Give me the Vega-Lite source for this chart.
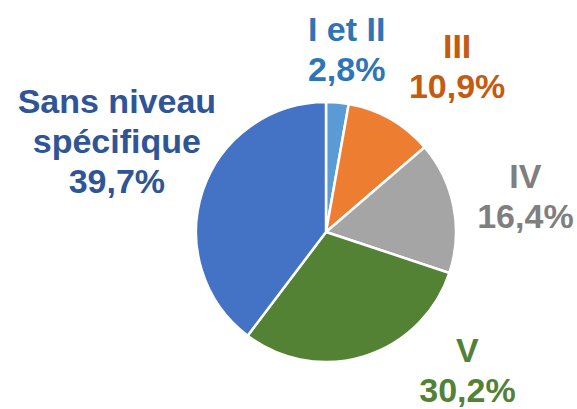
{
  "$schema": "https://vega.github.io/schema/vega-lite/v6.json",
  "width": 502,
  "height": 354,
  "autosize": {"type": "none"},
  "padding": {"left": 75, "top": 55, "right": 0, "bottom": 0},
  "background": "white",
  "config": {"view": {"stroke": null}},
  "data": {
    "values": [
      {"cat": "I et II", "label": "I et II", "v": 2.8},
      {"cat": "III", "label": "III", "v": 10.9},
      {"cat": "IV", "label": "IV", "v": 16.4},
      {"cat": "V", "label": "V", "v": 30.2},
      {"cat": "Sans niveau spécifique", "label": "Sans niveau\nspécifique", "v": 39.7}
    ]
  },
  "transform": [
    {"window": [{"op": "row_number", "as": "idx"}]},
    {"calculate": "datum.label + '\\n' + replace(format(datum.v, '.1f'), '.', ',') + '%'", "as": "txt"}
  ],
  "layer": [
    {
      "mark": {"type": "arc", "radius": 130, "stroke": "white", "strokeWidth": 2.5},
      "encoding": {
        "theta": {"field": "v", "type": "quantitative", "stack": true},
        "order": {"field": "idx", "type": "quantitative"},
        "color": {
          "field": "cat",
          "type": "nominal",
          "scale": {
            "domain": ["I et II", "III", "IV", "V", "Sans niveau spécifique"],
            "range": ["#5B9BD5", "#ED7D31", "#A5A5A5", "#548235", "#4472C4"]
          },
          "legend": null
        }
      }
    },
    {
      "mark": {
        "type": "text",
        "radius": 190,
        "font": "Liberation Sans",
        "fontWeight": "bold",
        "fontSize": 34,
        "lineHeight": 40,
        "align": "center",
        "baseline": "middle",
        "lineBreak": "\n",
        "dx": {"expr": "datum.cat === 'I et II' ? 4 : datum.cat === 'III' ? 37 : datum.cat === 'IV' ? 13 : datum.cat === 'V' ? 85 : -29"},
        "dy": {"expr": "datum.cat === 'I et II' ? -12 : datum.cat === 'III' ? -19 : datum.cat === 'IV' ? -17 : datum.cat === 'V' ? -61 : -69"}
      },
      "encoding": {
        "theta": {"field": "v", "type": "quantitative", "stack": true},
        "order": {"field": "idx", "type": "quantitative"},
        "text": {"field": "txt"},
        "color": {
          "field": "cat",
          "type": "nominal",
          "scale": {
            "domain": ["I et II", "III", "IV", "V", "Sans niveau spécifique"],
            "range": ["#2E75B6", "#C55A11", "#7F7F7F", "#538135", "#2F5597"]
          },
          "legend": null
        }
      }
    }
  ],
  "resolve": {"scale": {"color": "independent"}}
}
